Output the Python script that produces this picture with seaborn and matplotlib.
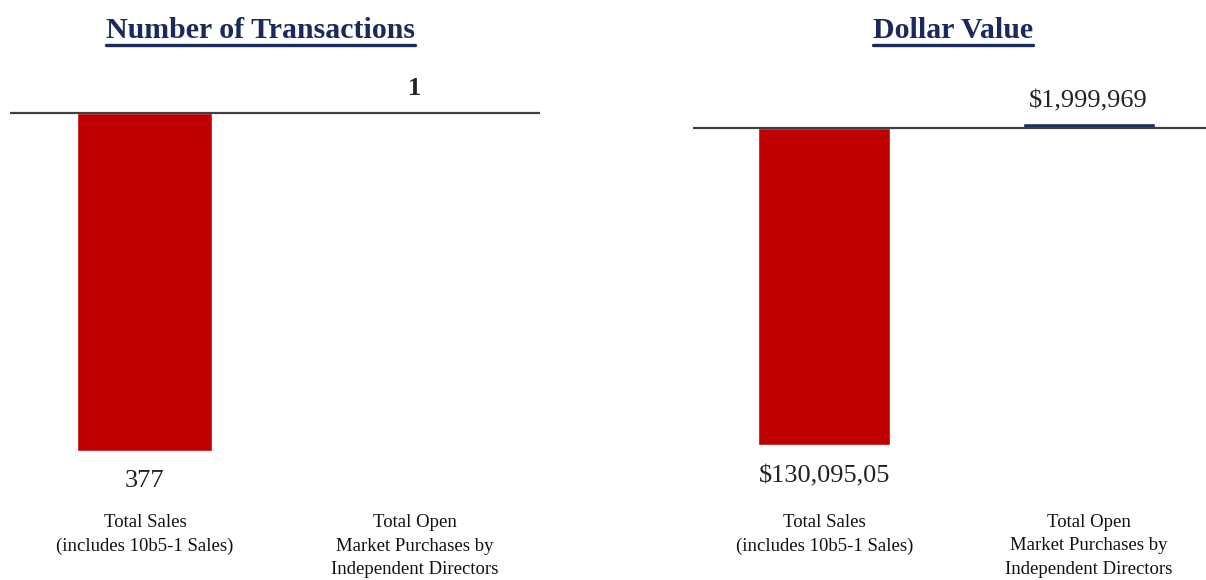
import pandas as pd
import matplotlib.pyplot as plt
import seaborn as sns
from matplotlib.lines import Line2D

sns.set_theme(style="white")
plt.rcParams['font.family'] = ['Liberation Serif', 'DejaVu Serif']

# data
categories = ["Total Sales\n(includes 10b5-1 Sales)",
              "Total Open\nMarket Purchases by\nIndependent Directors"]
transactions = [-377, 1]
transaction_labels = ["377", "1"]
dollars = [-130095050, 1999969]
dollar_labels = ["$130,095,05", "$1,999,969"]
bar_colors = ["#C00000", "#1B2F5E"]
title_color = "#1B2A5C"

W, H = 1206, 580
fig = plt.figure(figsize=(W / 100, H / 100), dpi=100)


def px_axes(x0, x1, y_top, y_bot):
    # axes placed with pixel coordinates (origin top-left)
    return fig.add_axes([x0 / W, 1 - y_bot / H, (x1 - x0) / W, (y_bot - y_top) / H])


def draw_panel(ax, values, labels, zero_px, top_px, bot_px, xlim, pad_pt, bold_flags, up_off, down_off):
    df = pd.DataFrame({"cat": categories, "val": values})
    sns.barplot(data=df, x="cat", y="val", hue="cat", palette=bar_colors,
                legend=False, width=0.5, saturation=1, ax=ax)
    lo = min(values)
    per_px = -lo / (bot_px - zero_px)
    ax.set_ylim(lo, (zero_px - top_px) * per_px)
    ax.set_xlim(*xlim)
    ax.axhline(0, color="#404040", lw=1.6, zorder=3)
    for s in ax.spines.values():
        s.set_visible(False)
    ax.set_yticks([])
    ax.set_xlabel("")
    ax.set_ylabel("")
    ax.tick_params(axis="x", length=0, pad=pad_pt, labelsize=13.5, labelcolor="#111111")
    for lab in ax.get_xticklabels():
        lab.set_linespacing(1.5)
    for i, (v, t) in enumerate(zip(values, labels)):
        w = "bold" if bold_flags[i] else "normal"
        if v < 0:
            ax.annotate(t, (i, v), xytext=(0, -down_off), textcoords="offset points",
                        ha="center", va="top", fontsize=19, color="#222222", fontweight=w)
        else:
            ax.annotate(t, (i, v), xytext=(0, up_off), textcoords="offset points",
                        ha="center", va="bottom", fontsize=19, color="#222222", fontweight=w)


ax1 = px_axes(10, 540, 60, 451)
draw_panel(ax1, transactions, transaction_labels, 113, 60, 451, (-0.5, 1.463), 45.5,
           [False, True], 9, 14)

ax2 = px_axes(693, 1206, 60, 445)
draw_panel(ax2, dollars, dollar_labels, 128, 60, 445, (-0.498, 1.445), 49.5,
           [False, False], 8, 15)

# titles with an underline
titles = [("Number of Transactions", 260), ("Dollar Value", 953)]
tobjs = []
for txt, xc in titles:
    t = fig.text(xc / W, 1 - 30 / H, txt, ha="center", va="center", fontsize=21.5,
                 fontweight="bold", color=title_color)
    tobjs.append(t)

fig.canvas.draw()
r = fig.canvas.get_renderer()
for t in tobjs:
    bb = t.get_window_extent(renderer=r)
    y = 1 - 45 / H
    fig.add_artist(Line2D([bb.x0 / W, bb.x1 / W], [y, y], color=title_color, lw=2.4,
                          transform=fig.transFigure))

fig.savefig("out.png", dpi=100, facecolor="white")
